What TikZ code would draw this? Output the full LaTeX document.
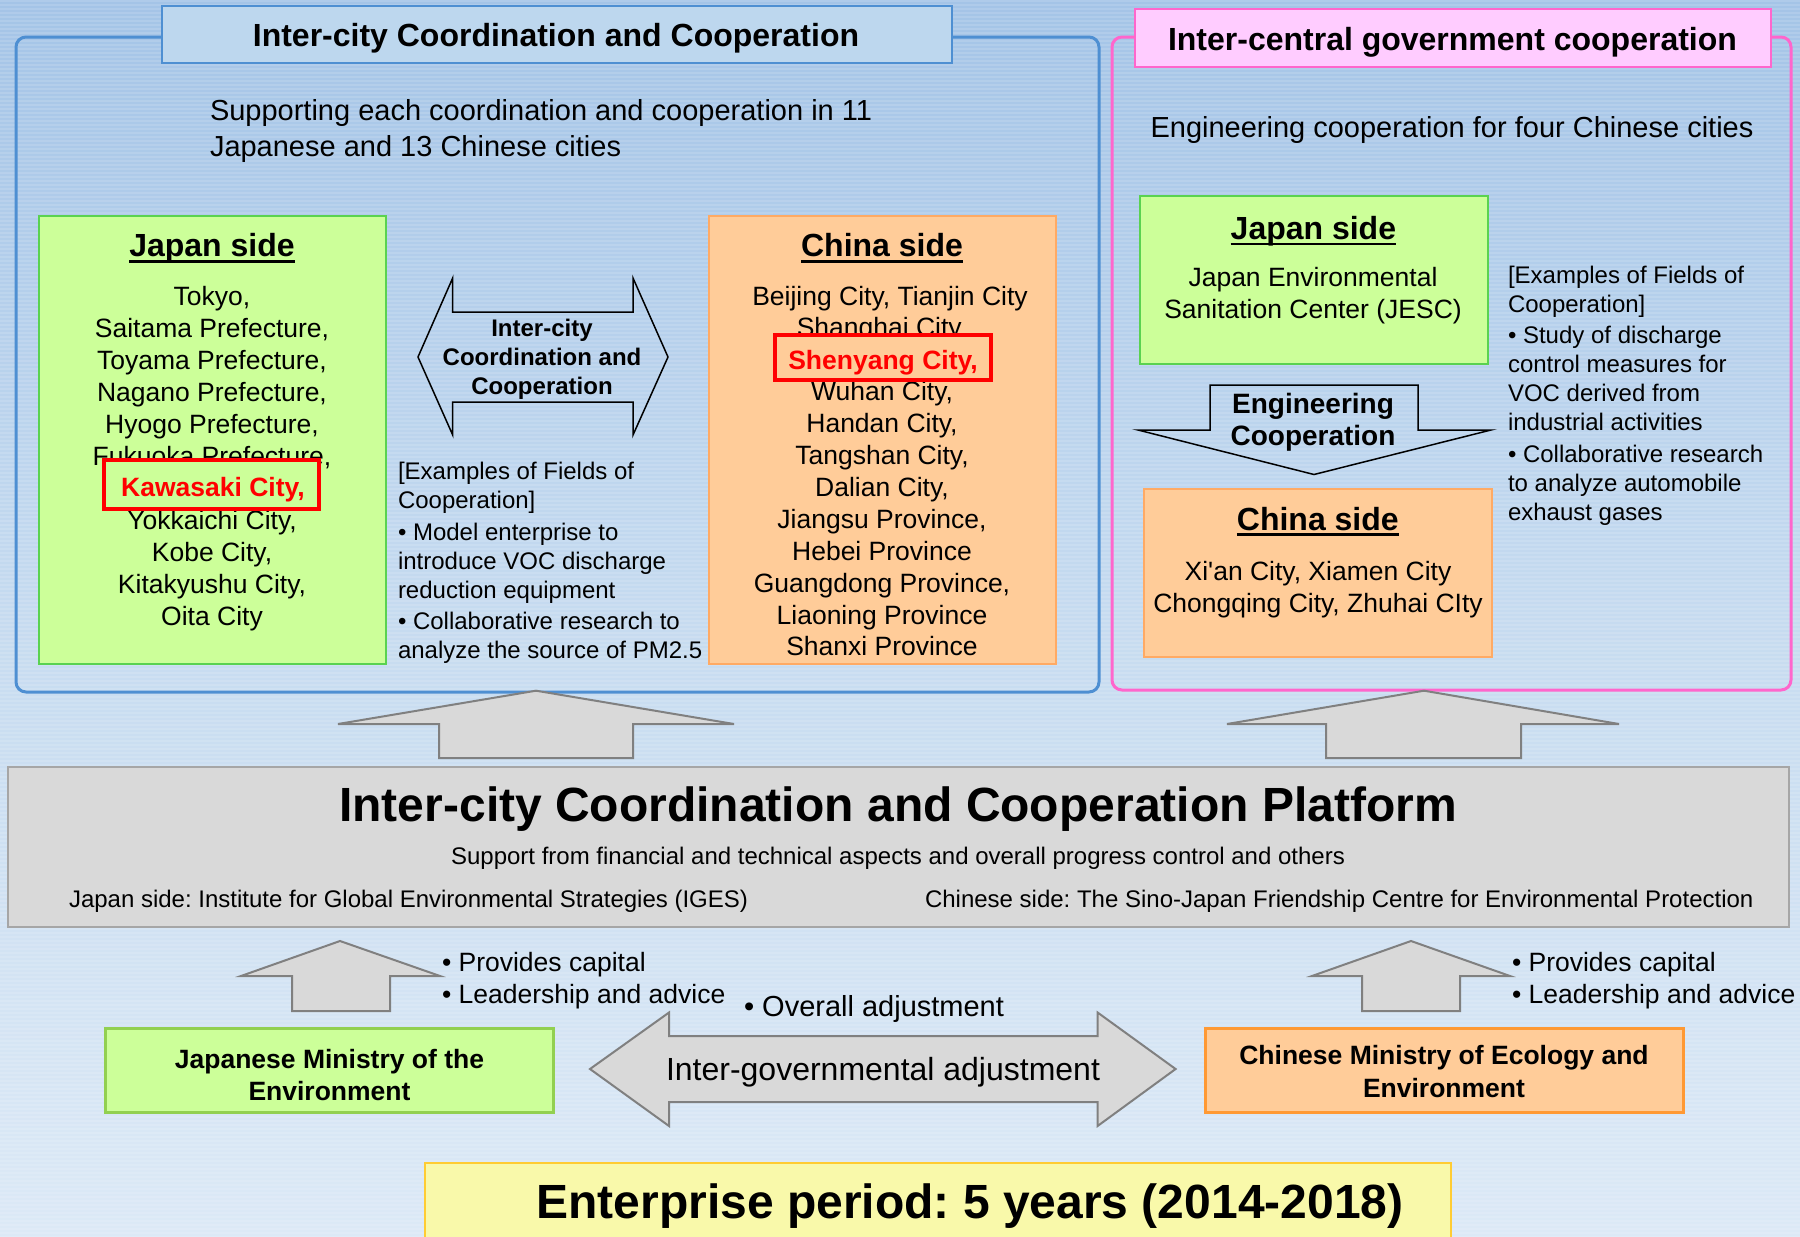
\documentclass[tikz,border=0pt]{standalone}
\usepackage{fontspec}
\setmainfont{Liberation Sans}
\frenchspacing

\definecolor{bgtop}{RGB}{164,196,231}
\definecolor{bgmid}{RGB}{198,219,240}
\definecolor{bgbot}{RGB}{220,233,246}
\definecolor{blueline}{RGB}{78,143,210}
\definecolor{bluetitle}{RGB}{189,215,238}
\definecolor{pinkline}{RGB}{255,102,204}
\definecolor{pinktitle}{RGB}{255,204,255}
\definecolor{greenfill}{RGB}{204,255,153}
\definecolor{greenline}{RGB}{90,210,80}
\definecolor{greenlineb}{RGB}{146,208,80}
\definecolor{orangefill}{RGB}{255,204,153}
\definecolor{orangeline}{RGB}{255,170,100}
\definecolor{orangelineb}{RGB}{255,153,51}
\definecolor{grayfill}{RGB}{217,217,217}
\definecolor{grayline}{RGB}{128,128,128}
\definecolor{platline}{RGB}{166,166,166}
\definecolor{yellowfill}{RGB}{249,249,170}
\definecolor{yellowline}{RGB}{255,204,51}
\definecolor{mark}{RGB}{255,0,0}

\newcommand\fsz[2]{\fontsize{#1}{#2}\selectfont}
% thick underline for the side headings
\newcommand\ulbar[1]{\setbox0=\hbox{#1}\makebox[0pt][l]{\rule[-6pt]{\wd0}{2.7pt}}\box0}

\begin{document}
\begin{tikzpicture}[x=1pt,y=-1pt,
  every node/.style={inner sep=0pt,outer sep=0pt},
  wh/.style 2 args={minimum width=#1pt,minimum height=#2pt},
  frame/.style={draw,line width=3pt,rounded corners=10pt},
  panel/.style={draw,line width=2pt},
  greenbox/.style={panel,draw=greenline,fill=greenfill},
  orangebox/.style={panel,draw=orangeline,fill=orangefill},
  redbox/.style={draw=mark,line width=4.5pt},
  outline/.style={draw=black,line width=1.5pt,line join=miter},
  grayarrow/.style={draw=grayline,fill=grayfill,line width=2pt,line join=miter},
  head/.style={anchor=base,font=\fsz{32}{38}\bfseries},
  city/.style={align=center,font=\fsz{26.5}{32}},
  note/.style={anchor=west,align=left,font=\fsz{24}{29}}
]
\useasboundingbox (0,0) rectangle (1800,1237);

% background with fine horizontal banding
\fill[top color=bgtop,bottom color=bgbot,middle color=bgmid] (0,0) rectangle (1800,1237);
\foreach \yy in {1,5,...,1237}
  \draw[white,opacity=0.13,line width=1.6pt] (0,\yy) -- (1800,\yy);

% ---------- inter-city panel ----------
\node[frame,draw=blueline,wh={1083}{655}] (citypanel) at (557.5,364.5) {};
\node[panel,draw=blueline,fill=bluetitle,wh={790}{57}] (citytitlebox) at (557,34.5) {};
\node[head] (citytitle) at (556,46) {Inter-city Coordination and Cooperation};

\node[anchor=west,align=left,font=\fsz{29}{36.3}] (citysub) at (210,131.2)
  {Supporting each coordination and cooperation in 11\\Japanese and 13 Chinese cities};

\node[greenbox,wh={347}{448}] (jpanel) at (212.5,440) {};
\node[head] (jhead) at (212,256.7) {\ulbar{Japan side}};
\node[city] (jlist) at (212,458.2)
  {Tokyo,\\Saitama Prefecture,\\Toyama Prefecture,\\Nagano Prefecture,\\Hyogo Prefecture,\\Fukuoka Prefecture,\\\mbox{}\\Yokkaichi City,\\Kobe City,\\Kitakyushu City,\\Oita City};
\node[redbox,fill=greenfill,wh={215}{49}] (kawabox) at (211.5,484.5) {};
\node[anchor=base,font=\fsz{26.5}{32}\bfseries,text=mark] (kawasaki) at (213,496.5) {Kawasaki City,};

\node[orangebox,wh={347}{448}] (cpanel) at (882.5,440) {};
\node[head] (chead) at (882,256.7) {\ulbar{China side}};
\node[city,font=\fsz{26.5}{31.9}] (clist) at (882,471)
  {\hspace*{16pt}Beijing City, Tianjin City\\Shanghai City,\\\mbox{}\\Wuhan City,\\Handan City,\\Tangshan City,\\Dalian City,\\Jiangsu Province,\\Hebei Province\\Guangdong Province,\\Liaoning Province\\Shanxi Province};
\node[redbox,fill=orangefill,wh={216}{45}] (shenbox) at (883,357.5) {};
\node[anchor=base,font=\fsz{26.5}{32}\bfseries,text=mark] (shenyang) at (883,369.7) {Shenyang City,};

% two-way exchange between the sides
\draw[outline] (418,357) -- (452.7,278) -- (452.7,312) -- (633,312) -- (633,278) -- (668,357)
  -- (633,435) -- (633,402) -- (452.7,402) -- (452.7,435) -- cycle;
\node[align=center,font=\fsz{24}{29}\bfseries] (citylink) at (542,359.1)
  {Inter-city\\Coordination and\\Cooperation};

\node[note] (cityfields) at (398,563)
  {[Examples of Fields of\\Cooperation]\\[2.5pt]• Model enterprise to\\introduce VOC discharge\\reduction equipment\\[2.5pt]• Collaborative research to\\analyze the source of PM2.5};

% ---------- central government panel ----------
\node[frame,draw=pinkline,wh={679}{653}] (govpanel) at (1451.5,363.5) {};
\node[panel,draw=pinkline,fill=pinktitle,wh={636}{58}] (govtitlebox) at (1453,38) {};
\node[head] (govtitle) at (1452.5,50) {Inter-central government cooperation};
\node[anchor=base,font=\fsz{29}{35}] (govsub) at (1452,137.5) {Engineering cooperation for four Chinese cities};

\node[greenbox,wh={348}{168}] (jesc) at (1314,280) {};
\node[head] (jeschead) at (1313.4,239.3) {\ulbar{Japan side}};
\node[city] (jesctext) at (1313,295.2) {Japan Environmental\\Sanitation Center (JESC)};

\draw[outline] (1210,385) -- (1418,385) -- (1418,430) -- (1491,430) -- (1314,474.5)
  -- (1138,430) -- (1210,430) -- cycle;
\node[align=center,font=\fsz{28}{32}\bfseries] (englink) at (1313,422.5) {Engineering\\Cooperation};

\node[orangebox,wh={348}{168}] (cright) at (1318,573) {};
\node[head] (crighthead) at (1317.8,530) {\ulbar{China side}};
\node[city] (crighttext) at (1318,589.8) {Xi\textquotesingle an City, Xiamen City\\Chongqing City, Zhuhai CIty};

\node[note] (govfields) at (1508,395.5)
  {[Examples of Fields of\\Cooperation]\\[2.5pt]• Study of discharge\\control measures for\\VOC derived from\\industrial activities\\[2.5pt]• Collaborative research\\to analyze automobile\\exhaust gases};

% ---------- platform ----------
\draw[grayarrow] (536,690.7) -- (734,724) -- (633,724) -- (633,758) -- (439,758) -- (439,724) -- (338,724) -- cycle;
\draw[grayarrow] (1424,690.7) -- (1619,724) -- (1521,724) -- (1521,758) -- (1326,758) -- (1326,724) -- (1227,724) -- cycle;

\node[draw=platline,fill=grayfill,line width=2pt,wh={1781}{160}] (platform) at (898.5,847) {};
\node[anchor=base,font=\fsz{48}{56}\bfseries] (plattitle) at (898,821.7) {Inter-city Coordination and Cooperation Platform};
\node[anchor=base,font=\fsz{24}{29}] (platsub) at (898,864.7) {Support from financial and technical aspects and overall progress control and others};
\node[anchor=base west,font=\fsz{24}{29}] (iges) at (69,907.2) {Japan side: Institute for Global Environmental Strategies (IGES)};
\node[anchor=base west,font=\fsz{24}{29}] (sinojp) at (925,907.2) {Chinese side: The Sino-Japan Friendship Centre for Environmental Protection};

% ---------- ministries ----------
\draw[grayarrow] (340,941) -- (440,976) -- (390,976) -- (390,1011) -- (292,1011) -- (292,976) -- (241,976) -- cycle;
\draw[grayarrow] (1411,941) -- (1510,976) -- (1460,976) -- (1460,1011) -- (1362,1011) -- (1362,976) -- (1312,976) -- cycle;

\node[anchor=west,align=left,font=\fsz{26.5}{32}] (jsupport) at (442,980.2) {• Provides capital\\• Leadership and advice};
\node[anchor=west,align=left,font=\fsz{26.5}{32}] (csupport) at (1512,980.2) {• Provides capital\\• Leadership and advice};
\node[anchor=base west,font=\fsz{29}{35}] (overall) at (744,1016) {• Overall adjustment};

\draw[grayarrow] (590,1069) -- (669,1012.5) -- (669,1036) -- (1097.6,1036) -- (1097.6,1012.5) -- (1175.6,1069)
  -- (1097.6,1126) -- (1097.6,1102) -- (669,1102) -- (669,1126) -- cycle;
\node[anchor=base,font=\fsz{32}{38}] (intergov) at (883,1080.6) {Inter-governmental adjustment};

\node[draw=greenlineb,fill=greenfill,line width=3pt,wh={447.4}{84}] (jmin) at (329.3,1070) {};
\node[align=center,font=\fsz{26.5}{32}\bfseries] (jmintext) at (329.5,1075) {Japanese Ministry of the\\Environment};
\node[draw=orangelineb,fill=orangefill,line width=3pt,wh={477.3}{84}] (cmin) at (1444.4,1070) {};
\node[align=center,font=\fsz{26.5}{32.7}\bfseries] (cmintext) at (1444,1071.7) {Chinese Ministry of Ecology and\\Environment};

% ---------- period ----------
\node[draw=yellowline,fill=yellowfill,line width=2pt,wh={1026}{100}] (periodbox) at (938,1213) {};
\node[anchor=base,font=\fsz{48}{56}\bfseries] (period) at (970,1218.5) {Enterprise period: 5 years (2014-2018)};
\end{tikzpicture}
\end{document}
